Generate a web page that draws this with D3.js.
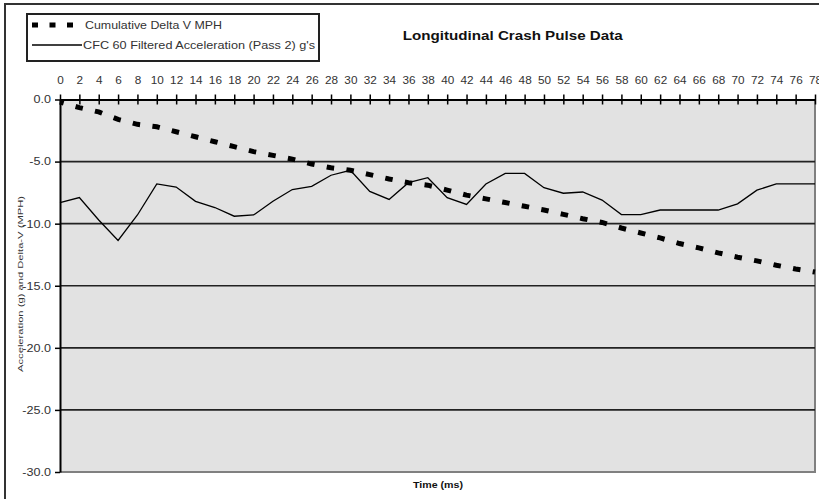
<!DOCTYPE html>
<html><head><meta charset="utf-8">
<script src="https://cdn.jsdelivr.net/npm/d3@7"></script>
<style>body{margin:0;background:#fff}svg{display:block}text{font-family:"Liberation Sans",Arial,sans-serif}</style>
</head><body><svg id="c" width="819" height="499"></svg>
<script>
const timeMs = [0,2,4,6,8,10,12,14,16,18,20,22,24,26,28,30,32,34,36,38,40,42,44,46,48,50,52,54,56,58,60,62,64,66,68,70,72,74,76,78];
const deltaV = [-0.2,-0.65,-1.0,-1.6,-2.0,-2.2,-2.6,-3.0,-3.4,-3.8,-4.2,-4.5,-4.8,-5.2,-5.5,-5.7,-6.05,-6.4,-6.7,-6.9,-7.3,-7.7,-8.0,-8.3,-8.6,-8.9,-9.25,-9.6,-9.9,-10.35,-10.75,-11.15,-11.6,-11.95,-12.35,-12.7,-13.0,-13.35,-13.65,-13.9];
const accel = [-8.3,-7.9,-9.7,-11.35,-9.3,-6.8,-7.05,-8.2,-8.7,-9.4,-9.3,-8.2,-7.25,-7.0,-6.1,-5.7,-7.4,-8.05,-6.7,-6.3,-7.9,-8.45,-6.8,-5.95,-5.95,-7.1,-7.55,-7.45,-8.1,-9.27,-9.27,-8.9,-8.9,-8.9,-8.9,-8.4,-7.3,-6.8,-6.8,-6.8];
const yTicks = [0,-5,-10,-15,-20,-25,-30];
const titleText = "Longitudinal Crash Pulse Data";
const seriesNames = ["Cumulative Delta V MPH","CFC 60 Filtered Acceleration (Pass 2) g's"];
const xTitle = "Time (ms)";
const yTitle = "Acceleration (g) and Delta-V (MPH)";

const svg = d3.select("#c");
const M = {left:60, right:815, top:99.5, bottom:472};
const x = d3.scaleLinear().domain([0,78]).range([M.left,M.right]);
const y = d3.scaleLinear().domain([0,-30]).range([M.top,M.bottom]);

function stretch(sel, f){
  sel.each(function(){
    const w = this.getComputedTextLength();
    d3.select(this).attr("textLength", w*f).attr("lengthAdjust","spacingAndGlyphs");
  });
}

// outer border (cropped frame)
svg.append("path").attr("d","M5,499 V4 H819").attr("fill","none").attr("stroke","#333").attr("stroke-width",2);

// plot background
svg.append("rect").attr("x",M.left).attr("y",M.top).attr("width",M.right-M.left).attr("height",M.bottom-M.top).attr("fill","#e2e2e2");
svg.append("path").attr("d",`M${M.left},${M.bottom} H${M.right} V${M.top}`).attr("fill","none").attr("stroke","#808080").attr("stroke-width",2);

// gridlines
svg.append("g").selectAll("line").data(yTicks.filter(v=>v<0 && v>-30)).join("line")
  .attr("x1",M.left).attr("x2",M.right).attr("y1",d=>y(d)).attr("y2",d=>y(d))
  .attr("stroke","#222").attr("stroke-width",1.6);

// series
const line = d3.line().x((d,i)=>x(timeMs[i])).y(d=>y(d));
svg.append("path").datum(accel).attr("d",line).attr("fill","none").attr("stroke","#000").attr("stroke-width",1.3);
svg.append("path").datum(deltaV).attr("d",line).attr("fill","none").attr("stroke","#000")
  .attr("stroke-width",5).attr("stroke-dasharray","7.5 12.4").attr("stroke-dashoffset",3.7).attr("stroke-linecap","butt");

// x axis (top)
const gx = svg.append("g").attr("transform",`translate(0,${M.top})`)
  .call(d3.axisTop(x).tickValues(timeMs).tickFormat(d=>String(d)).tickSizeOuter(0).tickSizeInner(5));
gx.select(".domain").attr("stroke","#000").attr("stroke-width",2);
gx.selectAll(".tick line").attr("y1",-5).attr("y2",5).attr("stroke","#000").attr("stroke-width",1.5);
gx.selectAll(".tick text").attr("y",-15.5).attr("dy",0).attr("fill","#333").attr("font-size",10.5)
  .call(stretch,1.12);

// y axis (left)
const gy = svg.append("g").attr("transform",`translate(${M.left},0)`)
  .call(d3.axisLeft(y).tickValues(yTicks).tickFormat(d=>d.toFixed(1)).tickSizeOuter(0).tickSizeInner(5).tickPadding(4));
gy.select(".domain").attr("stroke","#000").attr("stroke-width",2);
gy.selectAll(".tick line").attr("stroke","#000").attr("stroke-width",1.5);
gy.selectAll(".tick text").attr("fill","#333").attr("font-size",10.5).attr("x",-9).call(stretch,1.2);

// title
svg.append("text").attr("x",402.7).attr("y",39.5).attr("font-size",13).attr("font-weight","bold").attr("fill","#111")
  .attr("textLength",220).attr("lengthAdjust","spacingAndGlyphs").text(titleText);

// axis titles
svg.append("text").attr("x",413).attr("y",488.3).attr("font-size",9.5).attr("font-weight","bold").attr("fill","#111")
  .attr("textLength",50).attr("lengthAdjust","spacingAndGlyphs").text(xTitle);
svg.append("text").attr("transform","translate(23,284) rotate(-90)").attr("text-anchor","middle").attr("font-size",8).attr("fill","#333")
  .attr("textLength",176).attr("lengthAdjust","spacingAndGlyphs").text(yTitle);

// legend
const lg = svg.append("g");
lg.append("rect").attr("x",27).attr("y",14).attr("width",292).attr("height",47).attr("fill","#fff").attr("stroke","#222").attr("stroke-width",2);
lg.append("line").attr("x1",32).attr("x2",73).attr("y1",25).attr("y2",25).attr("stroke","#000").attr("stroke-width",5).attr("stroke-dasharray","6 11.5");
lg.append("line").attr("x1",32).attr("x2",82).attr("y1",45).attr("y2",45).attr("stroke","#000").attr("stroke-width",1.3);
lg.append("text").attr("x",85).attr("y",29).attr("font-size",10.5).attr("fill","#333")
  .attr("textLength",137).attr("lengthAdjust","spacingAndGlyphs").text(seriesNames[0]);
lg.append("text").attr("x",83).attr("y",49).attr("font-size",10.5).attr("fill","#333")
  .attr("textLength",232).attr("lengthAdjust","spacingAndGlyphs").text(seriesNames[1]);
</script></body></html>
